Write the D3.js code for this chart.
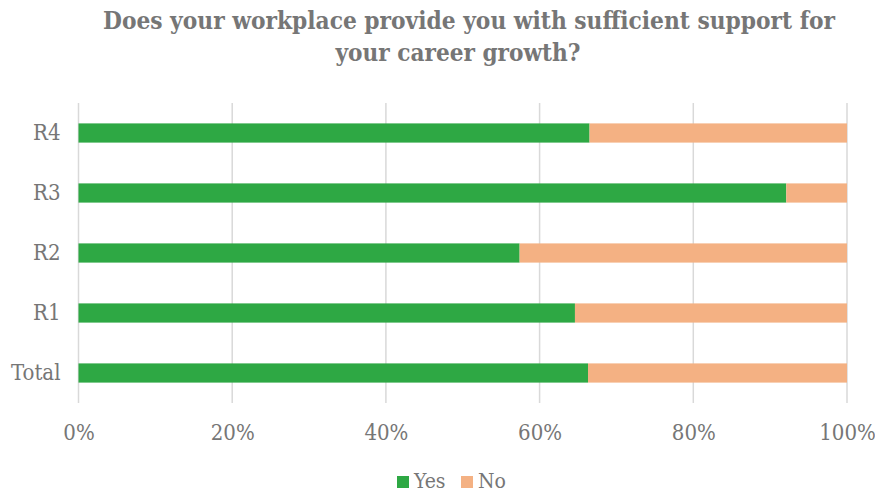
<!DOCTYPE html>
<html>
<head>
<meta charset="utf-8">
<script src="https://cdn.jsdelivr.net/npm/d3@7"></script>
<style>
  html, body { margin: 0; padding: 0; background: #fff; }
  svg { display: block; }
</style>
</head>
<body>
<svg id="chart" width="875" height="492"></svg>
<script>
// Survey responses by group (share of "Yes" / "No", in %)
const categories = ["R4", "R3", "R2", "R1", "Total"];
const yesValues = [66.5, 92.1, 57.4, 64.6, 66.3];
const noValues = [33.5, 7.9, 42.6, 35.4, 33.7];
const seriesNames = ["Yes", "No"];
const tickValues = [0, 0.2, 0.4, 0.6, 0.8, 1.0];
const titleLines = ["Does your workplace provide you with sufficient support for", "your career growth?"];

const colors = { Yes: "#2ea844", No: "#f4b183" };
const textColor = "#767676";
const fontFamily = "'DejaVu Serif Condensed', 'DejaVu Serif', serif";

const svg = d3.select("#chart");
const margin = { left: 78.5, right: 28, top: 103, bottom: 89 };
const W = 875, H = 492;

const rows = categories.map((c, i) => ({ category: c, Yes: yesValues[i] / 100, No: noValues[i] / 100 }));
const stacked = d3.stack().keys(seriesNames)(rows);

const x = d3.scaleLinear().domain([0, 1]).range([margin.left, W - margin.right]);
const y = d3.scaleBand().domain(categories).range([margin.top, H - margin.bottom]).paddingInner(0.68).paddingOuter(0.34);

// Title, two centred lines fitted to their set widths
const titleLayout = [{ cx: 469, y: 29, width: 732 }, { cx: 458, y: 61, width: 245 }];
titleLines.forEach((line, i) => {
  const t = titleLayout[i];
  svg.append("text")
    .attr("x", t.cx - t.width / 2)
    .attr("y", t.y)
    .attr("textLength", t.width)
    .attr("lengthAdjust", "spacingAndGlyphs")
    .attr("font-family", fontFamily)
    .attr("font-weight", "bold")
    .attr("font-size", 25)
    .attr("fill", textColor)
    .text(line);
});

// Vertical gridlines
svg.append("g")
  .selectAll("line")
  .data(tickValues)
  .join("line")
  .attr("x1", d => x(d)).attr("x2", d => x(d))
  .attr("y1", margin.top).attr("y2", H - margin.bottom)
  .attr("stroke", "#d9d9d9")
  .attr("stroke-width", 1.5);

// Stacked bars
svg.append("g")
  .selectAll("g")
  .data(stacked)
  .join("g")
  .attr("fill", d => colors[d.key])
  .selectAll("rect")
  .data(d => d)
  .join("rect")
  .attr("x", d => x(d[0]))
  .attr("width", d => x(d[1]) - x(d[0]))
  .attr("y", d => y(d.data.category))
  .attr("height", y.bandwidth());

// Category axis
const yAxis = svg.append("g")
  .attr("transform", `translate(${margin.left - 18},0)`)
  .call(d3.axisLeft(y).tickSize(0).tickPadding(0));
yAxis.select(".domain").remove();
yAxis.selectAll("text")
  .attr("font-family", fontFamily)
  .attr("font-size", 22)
  .attr("fill", textColor);

// Percentage axis
const xAxis = svg.append("g")
  .attr("transform", `translate(0,${H - margin.bottom})`)
  .call(d3.axisBottom(x).tickValues(tickValues).tickFormat(d3.format(".0%")).tickSize(0).tickPadding(21));
xAxis.select(".domain").remove();
xAxis.selectAll("text")
  .attr("font-family", fontFamily)
  .attr("font-size", 22)
  .attr("fill", textColor);

// Legend
const legend = svg.append("g");
const legendItems = [{ key: "Yes", x: 397 }, { key: "No", x: 461 }];
legendItems.forEach(item => {
  legend.append("rect")
    .attr("x", item.x).attr("y", 476)
    .attr("width", 12).attr("height", 12)
    .attr("fill", colors[item.key]);
  legend.append("text")
    .attr("x", item.x + 17).attr("y", 488)
    .attr("font-family", fontFamily)
    .attr("font-size", 21)
    .attr("fill", textColor)
    .text(item.key);
});
</script>
</body>
</html>
